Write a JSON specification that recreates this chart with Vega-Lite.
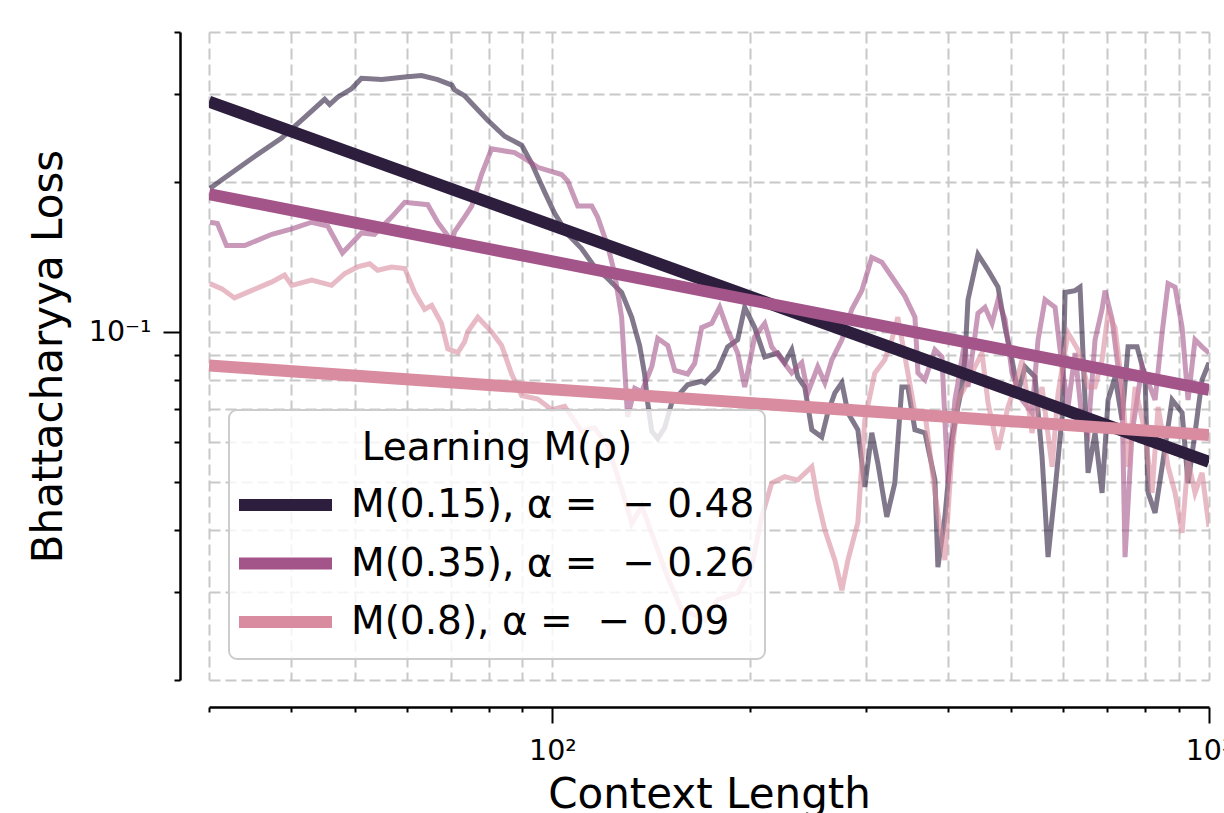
{
  "$schema": "https://vega.github.io/schema/vega-lite/v6.json",
  "width": 1000,
  "height": 648,
  "autosize": {"type": "none"},
  "padding": {"left": 209, "top": 32, "right": 15, "bottom": 133},
  "background": "white",
  "config": {
    "view": {"stroke": null},
    "font": "DejaVu Sans",
    "axis": {
      "domainColor": "black", "domainWidth": 2.5,
      "tickColor": "black", "tickWidth": 2,
      "labelColor": "black", "labelFont": "DejaVu Sans", "labelFontSize": 28.5,
      "titleColor": "black", "titleFont": "DejaVu Sans", "titleFontSize": 42, "titleFontWeight": "normal",
      "grid": true, "gridColor": "#c8c8c8", "gridDash": [11, 5], "gridWidth": 2,
      "labelOverlap": false, "labelFlush": false, "labelBound": false
    },
    "legend": {"strokeWidth": 2}
  },
  "datasets": {
    "raw": [
      {"m": "M(0.15)", "x": 30.1, "y": 0.194}, {"m": "M(0.15)", "x": 31.7, "y": 0.204}, {"m": "M(0.15)", "x": 35.2, "y": 0.225},
      {"m": "M(0.15)", "x": 38.7, "y": 0.245}, {"m": "M(0.15)", "x": 42.0, "y": 0.270}, {"m": "M(0.15)", "x": 45.0, "y": 0.293},
      {"m": "M(0.15)", "x": 45.8, "y": 0.286}, {"m": "M(0.15)", "x": 47.1, "y": 0.296}, {"m": "M(0.15)", "x": 49.5, "y": 0.308},
      {"m": "M(0.15)", "x": 51.2, "y": 0.323}, {"m": "M(0.15)", "x": 55.0, "y": 0.321}, {"m": "M(0.15)", "x": 59.6, "y": 0.325},
      {"m": "M(0.15)", "x": 63.2, "y": 0.327}, {"m": "M(0.15)", "x": 66.9, "y": 0.321}, {"m": "M(0.15)", "x": 70.3, "y": 0.313},
      {"m": "M(0.15)", "x": 71.0, "y": 0.306}, {"m": "M(0.15)", "x": 73.5, "y": 0.298}, {"m": "M(0.15)", "x": 79.7, "y": 0.266},
      {"m": "M(0.15)", "x": 84.6, "y": 0.247}, {"m": "M(0.15)", "x": 89.8, "y": 0.237}, {"m": "M(0.15)", "x": 93.0, "y": 0.218},
      {"m": "M(0.15)", "x": 97.3, "y": 0.191}, {"m": "M(0.15)", "x": 100.8, "y": 0.173}, {"m": "M(0.15)", "x": 105.5, "y": 0.157},
      {"m": "M(0.15)", "x": 110.8, "y": 0.147}, {"m": "M(0.15)", "x": 116.0, "y": 0.135}, {"m": "M(0.15)", "x": 121.4, "y": 0.128},
      {"m": "M(0.15)", "x": 127.5, "y": 0.120}, {"m": "M(0.15)", "x": 132.1, "y": 0.107}, {"m": "M(0.15)", "x": 135.8, "y": 0.0939},
      {"m": "M(0.15)", "x": 138.2, "y": 0.0823}, {"m": "M(0.15)", "x": 139.7, "y": 0.0721}, {"m": "M(0.15)", "x": 141.7, "y": 0.0632},
      {"m": "M(0.15)", "x": 144.7, "y": 0.0611}, {"m": "M(0.15)", "x": 148.3, "y": 0.0642}, {"m": "M(0.15)", "x": 152.0, "y": 0.0721},
      {"m": "M(0.15)", "x": 160.7, "y": 0.0783}, {"m": "M(0.15)", "x": 168.8, "y": 0.0796}, {"m": "M(0.15)", "x": 170.7, "y": 0.0790},
      {"m": "M(0.15)", "x": 178.6, "y": 0.0839}, {"m": "M(0.15)", "x": 184.9, "y": 0.0933}, {"m": "M(0.15)", "x": 191.5, "y": 0.0964},
      {"m": "M(0.15)", "x": 196.3, "y": 0.112}, {"m": "M(0.15)", "x": 203.3, "y": 0.102}, {"m": "M(0.15)", "x": 210.6, "y": 0.0891},
      {"m": "M(0.15)", "x": 220.4, "y": 0.0907}, {"m": "M(0.15)", "x": 225.9, "y": 0.0867}, {"m": "M(0.15)", "x": 231.5, "y": 0.0920},
      {"m": "M(0.15)", "x": 236.4, "y": 0.0812}, {"m": "M(0.15)", "x": 242.3, "y": 0.0775}, {"m": "M(0.15)", "x": 248.4, "y": 0.0636},
      {"m": "M(0.15)", "x": 257.2, "y": 0.0615}, {"m": "M(0.15)", "x": 262.7, "y": 0.0688}, {"m": "M(0.15)", "x": 269.3, "y": 0.0754},
      {"m": "M(0.15)", "x": 276.0, "y": 0.0790}, {"m": "M(0.15)", "x": 281.9, "y": 0.0688}, {"m": "M(0.15)", "x": 291.9, "y": 0.0636},
      {"m": "M(0.15)", "x": 299.1, "y": 0.0488}, {"m": "M(0.15)", "x": 306.5, "y": 0.0627}, {"m": "M(0.15)", "x": 313.1, "y": 0.0545},
      {"m": "M(0.15)", "x": 323.1, "y": 0.0425}, {"m": "M(0.15)", "x": 332.3, "y": 0.0497}, {"m": "M(0.15)", "x": 340.6, "y": 0.0775},
      {"m": "M(0.15)", "x": 347.9, "y": 0.0775}, {"m": "M(0.15)", "x": 356.6, "y": 0.0636}, {"m": "M(0.15)", "x": 369.3, "y": 0.0627},
      {"m": "M(0.15)", "x": 382.5, "y": 0.0504}, {"m": "M(0.15)", "x": 386.5, "y": 0.0337}, {"m": "M(0.15)", "x": 396.1, "y": 0.0425},
      {"m": "M(0.15)", "x": 406.0, "y": 0.0607}, {"m": "M(0.15)", "x": 414.6, "y": 0.0707}, {"m": "M(0.15)", "x": 420.5, "y": 0.0775},
      {"m": "M(0.15)", "x": 425.0, "y": 0.0891}, {"m": "M(0.15)", "x": 429.5, "y": 0.116}, {"m": "M(0.15)", "x": 444.8, "y": 0.143},
      {"m": "M(0.15)", "x": 460.8, "y": 0.133}, {"m": "M(0.15)", "x": 477.2, "y": 0.123}, {"m": "M(0.15)", "x": 489.1, "y": 0.102},
      {"m": "M(0.15)", "x": 501.2, "y": 0.0879}, {"m": "M(0.15)", "x": 511.9, "y": 0.0754}, {"m": "M(0.15)", "x": 524.6, "y": 0.0851},
      {"m": "M(0.15)", "x": 543.3, "y": 0.0812}, {"m": "M(0.15)", "x": 556.9, "y": 0.0561}, {"m": "M(0.15)", "x": 568.7, "y": 0.0353},
      {"m": "M(0.15)", "x": 582.9, "y": 0.0482}, {"m": "M(0.15)", "x": 597.4, "y": 0.0675}, {"m": "M(0.15)", "x": 603.7, "y": 0.120},
      {"m": "M(0.15)", "x": 625.2, "y": 0.121}, {"m": "M(0.15)", "x": 636.2, "y": 0.123}, {"m": "M(0.15)", "x": 647.5, "y": 0.0730},
      {"m": "M(0.15)", "x": 654.4, "y": 0.0521}, {"m": "M(0.15)", "x": 670.6, "y": 0.0627}, {"m": "M(0.15)", "x": 687.3, "y": 0.0475},
      {"m": "M(0.15)", "x": 701.9, "y": 0.0730}, {"m": "M(0.15)", "x": 719.4, "y": 0.0812}, {"m": "M(0.15)", "x": 737.3, "y": 0.0666},
      {"m": "M(0.15)", "x": 752.9, "y": 0.0933}, {"m": "M(0.15)", "x": 777.1, "y": 0.0933}, {"m": "M(0.15)", "x": 799.2, "y": 0.0812},
      {"m": "M(0.15)", "x": 807.7, "y": 0.0475}, {"m": "M(0.15)", "x": 827.7, "y": 0.0433}, {"m": "M(0.15)", "x": 848.3, "y": 0.0536},
      {"m": "M(0.15)", "x": 878.6, "y": 0.0730}, {"m": "M(0.15)", "x": 910.0, "y": 0.0688}, {"m": "M(0.15)", "x": 929.2, "y": 0.0497},
      {"m": "M(0.15)", "x": 952.2, "y": 0.0627}, {"m": "M(0.15)", "x": 975.9, "y": 0.0801}, {"m": "M(0.15)", "x": 1000, "y": 0.0867},

      {"m": "M(0.35)", "x": 30.1, "y": 0.166}, {"m": "M(0.35)", "x": 30.9, "y": 0.165}, {"m": "M(0.35)", "x": 31.9, "y": 0.149},
      {"m": "M(0.35)", "x": 34.0, "y": 0.149}, {"m": "M(0.35)", "x": 37.4, "y": 0.157}, {"m": "M(0.35)", "x": 40.1, "y": 0.161},
      {"m": "M(0.35)", "x": 43.0, "y": 0.166}, {"m": "M(0.35)", "x": 45.5, "y": 0.163}, {"m": "M(0.35)", "x": 47.9, "y": 0.144},
      {"m": "M(0.35)", "x": 51.2, "y": 0.158}, {"m": "M(0.35)", "x": 53.6, "y": 0.157}, {"m": "M(0.35)", "x": 56.9, "y": 0.170},
      {"m": "M(0.35)", "x": 59.6, "y": 0.182}, {"m": "M(0.35)", "x": 64.6, "y": 0.180}, {"m": "M(0.35)", "x": 66.9, "y": 0.166},
      {"m": "M(0.35)", "x": 70.3, "y": 0.152}, {"m": "M(0.35)", "x": 71.0, "y": 0.159}, {"m": "M(0.35)", "x": 73.5, "y": 0.170},
      {"m": "M(0.35)", "x": 75.4, "y": 0.179}, {"m": "M(0.35)", "x": 78.0, "y": 0.207}, {"m": "M(0.35)", "x": 80.8, "y": 0.233},
      {"m": "M(0.35)", "x": 87.6, "y": 0.229}, {"m": "M(0.35)", "x": 91.7, "y": 0.221}, {"m": "M(0.35)", "x": 95.0, "y": 0.214},
      {"m": "M(0.35)", "x": 98.4, "y": 0.211}, {"m": "M(0.35)", "x": 103.3, "y": 0.207}, {"m": "M(0.35)", "x": 105.5, "y": 0.201},
      {"m": "M(0.35)", "x": 109.3, "y": 0.179}, {"m": "M(0.35)", "x": 114.8, "y": 0.179}, {"m": "M(0.35)", "x": 117.2, "y": 0.170},
      {"m": "M(0.35)", "x": 121.4, "y": 0.149}, {"m": "M(0.35)", "x": 124.4, "y": 0.131}, {"m": "M(0.35)", "x": 127.5, "y": 0.107},
      {"m": "M(0.35)", "x": 130.2, "y": 0.0675}, {"m": "M(0.35)", "x": 133.5, "y": 0.0770}, {"m": "M(0.35)", "x": 136.8, "y": 0.0758},
      {"m": "M(0.35)", "x": 141.7, "y": 0.0851}, {"m": "M(0.35)", "x": 144.7, "y": 0.0970}, {"m": "M(0.35)", "x": 149.9, "y": 0.0939},
      {"m": "M(0.35)", "x": 153.6, "y": 0.0837}, {"m": "M(0.35)", "x": 160.7, "y": 0.0823}, {"m": "M(0.35)", "x": 164.7, "y": 0.0864},
      {"m": "M(0.35)", "x": 168.8, "y": 0.102}, {"m": "M(0.35)", "x": 174.9, "y": 0.104}, {"m": "M(0.35)", "x": 179.8, "y": 0.112},
      {"m": "M(0.35)", "x": 184.9, "y": 0.101}, {"m": "M(0.35)", "x": 191.5, "y": 0.0907}, {"m": "M(0.35)", "x": 196.3, "y": 0.0775},
      {"m": "M(0.35)", "x": 203.3, "y": 0.0977}, {"m": "M(0.35)", "x": 210.6, "y": 0.104}, {"m": "M(0.35)", "x": 215.8, "y": 0.0933},
      {"m": "M(0.35)", "x": 223.5, "y": 0.0879}, {"m": "M(0.35)", "x": 231.5, "y": 0.0827}, {"m": "M(0.35)", "x": 239.8, "y": 0.0867},
      {"m": "M(0.35)", "x": 244.9, "y": 0.0754}, {"m": "M(0.35)", "x": 253.6, "y": 0.0851}, {"m": "M(0.35)", "x": 260.0, "y": 0.0790},
      {"m": "M(0.35)", "x": 266.5, "y": 0.0879}, {"m": "M(0.35)", "x": 276.0, "y": 0.0964}, {"m": "M(0.35)", "x": 285.8, "y": 0.111},
      {"m": "M(0.35)", "x": 296.0, "y": 0.121}, {"m": "M(0.35)", "x": 306.5, "y": 0.141}, {"m": "M(0.35)", "x": 317.5, "y": 0.138},
      {"m": "M(0.35)", "x": 328.8, "y": 0.129}, {"m": "M(0.35)", "x": 344.2, "y": 0.118}, {"m": "M(0.35)", "x": 356.6, "y": 0.107},
      {"m": "M(0.35)", "x": 360.4, "y": 0.0827}, {"m": "M(0.35)", "x": 369.3, "y": 0.0801}, {"m": "M(0.35)", "x": 382.5, "y": 0.0920},
      {"m": "M(0.35)", "x": 392.0, "y": 0.0891}, {"m": "M(0.35)", "x": 400.3, "y": 0.0497}, {"m": "M(0.35)", "x": 410.3, "y": 0.0730},
      {"m": "M(0.35)", "x": 414.6, "y": 0.0790}, {"m": "M(0.35)", "x": 425.0, "y": 0.0964}, {"m": "M(0.35)", "x": 429.5, "y": 0.0775},
      {"m": "M(0.35)", "x": 444.8, "y": 0.109}, {"m": "M(0.35)", "x": 455.9, "y": 0.112}, {"m": "M(0.35)", "x": 467.3, "y": 0.104},
      {"m": "M(0.35)", "x": 477.2, "y": 0.116}, {"m": "M(0.35)", "x": 489.1, "y": 0.106}, {"m": "M(0.35)", "x": 501.2, "y": 0.0827},
      {"m": "M(0.35)", "x": 519.2, "y": 0.0730}, {"m": "M(0.35)", "x": 537.6, "y": 0.0688}, {"m": "M(0.35)", "x": 549.1, "y": 0.0964},
      {"m": "M(0.35)", "x": 562.7, "y": 0.116}, {"m": "M(0.35)", "x": 582.9, "y": 0.112}, {"m": "M(0.35)", "x": 597.4, "y": 0.0851},
      {"m": "M(0.35)", "x": 610.1, "y": 0.0707}, {"m": "M(0.35)", "x": 625.2, "y": 0.0907}, {"m": "M(0.35)", "x": 640.7, "y": 0.0666},
      {"m": "M(0.35)", "x": 654.4, "y": 0.0627}, {"m": "M(0.35)", "x": 670.6, "y": 0.0964}, {"m": "M(0.35)", "x": 687.3, "y": 0.111},
      {"m": "M(0.35)", "x": 694.6, "y": 0.121}, {"m": "M(0.35)", "x": 711.8, "y": 0.106}, {"m": "M(0.35)", "x": 737.3, "y": 0.0730},
      {"m": "M(0.35)", "x": 745.0, "y": 0.0353}, {"m": "M(0.35)", "x": 763.5, "y": 0.0627}, {"m": "M(0.35)", "x": 790.8, "y": 0.0851},
      {"m": "M(0.35)", "x": 827.7, "y": 0.0730}, {"m": "M(0.35)", "x": 848.3, "y": 0.0995}, {"m": "M(0.35)", "x": 866.3, "y": 0.125},
      {"m": "M(0.35)", "x": 887.9, "y": 0.123}, {"m": "M(0.35)", "x": 910.0, "y": 0.102}, {"m": "M(0.35)", "x": 929.2, "y": 0.0730},
      {"m": "M(0.35)", "x": 952.2, "y": 0.0964}, {"m": "M(0.35)", "x": 975.9, "y": 0.0933}, {"m": "M(0.35)", "x": 1000, "y": 0.0907},

      {"m": "M(0.8)", "x": 30.1, "y": 0.125}, {"m": "M(0.8)", "x": 31.4, "y": 0.122}, {"m": "M(0.8)", "x": 32.8, "y": 0.117},
      {"m": "M(0.8)", "x": 34.8, "y": 0.121}, {"m": "M(0.8)", "x": 37.4, "y": 0.126}, {"m": "M(0.8)", "x": 39.1, "y": 0.130},
      {"m": "M(0.8)", "x": 40.1, "y": 0.124}, {"m": "M(0.8)", "x": 43.0, "y": 0.127}, {"m": "M(0.8)", "x": 46.1, "y": 0.124},
      {"m": "M(0.8)", "x": 48.3, "y": 0.131}, {"m": "M(0.8)", "x": 50.5, "y": 0.135}, {"m": "M(0.8)", "x": 52.7, "y": 0.137},
      {"m": "M(0.8)", "x": 54.2, "y": 0.133}, {"m": "M(0.8)", "x": 56.9, "y": 0.135}, {"m": "M(0.8)", "x": 59.6, "y": 0.134},
      {"m": "M(0.8)", "x": 61.7, "y": 0.120}, {"m": "M(0.8)", "x": 63.9, "y": 0.111}, {"m": "M(0.8)", "x": 65.5, "y": 0.113},
      {"m": "M(0.8)", "x": 67.8, "y": 0.104}, {"m": "M(0.8)", "x": 69.3, "y": 0.0924}, {"m": "M(0.8)", "x": 71.8, "y": 0.0909},
      {"m": "M(0.8)", "x": 73.5, "y": 0.0955}, {"m": "M(0.8)", "x": 74.3, "y": 0.100}, {"m": "M(0.8)", "x": 77.0, "y": 0.107},
      {"m": "M(0.8)", "x": 80.8, "y": 0.100}, {"m": "M(0.8)", "x": 83.7, "y": 0.0939}, {"m": "M(0.8)", "x": 86.7, "y": 0.0823},
      {"m": "M(0.8)", "x": 89.8, "y": 0.0745}, {"m": "M(0.8)", "x": 95.0, "y": 0.0733}, {"m": "M(0.8)", "x": 99.8, "y": 0.0698},
      {"m": "M(0.8)", "x": 104.4, "y": 0.0709}, {"m": "M(0.8)", "x": 110.8, "y": 0.0632}, {"m": "M(0.8)", "x": 116.0, "y": 0.0642},
      {"m": "M(0.8)", "x": 121.4, "y": 0.0591}, {"m": "M(0.8)", "x": 127.5, "y": 0.0485}, {"m": "M(0.8)", "x": 132.1, "y": 0.0412},
      {"m": "M(0.8)", "x": 136.8, "y": 0.0447}, {"m": "M(0.8)", "x": 143.2, "y": 0.0379}, {"m": "M(0.8)", "x": 149.9, "y": 0.0321},
      {"m": "M(0.8)", "x": 157.4, "y": 0.0277}, {"m": "M(0.8)", "x": 164.7, "y": 0.0270}, {"m": "M(0.8)", "x": 170.7, "y": 0.0264},
      {"m": "M(0.8)", "x": 178.6, "y": 0.0290}, {"m": "M(0.8)", "x": 191.5, "y": 0.0299}, {"m": "M(0.8)", "x": 201.2, "y": 0.0337},
      {"m": "M(0.8)", "x": 208.4, "y": 0.0425}, {"m": "M(0.8)", "x": 215.8, "y": 0.0497}, {"m": "M(0.8)", "x": 225.9, "y": 0.0512},
      {"m": "M(0.8)", "x": 236.4, "y": 0.0504}, {"m": "M(0.8)", "x": 248.4, "y": 0.0536}, {"m": "M(0.8)", "x": 253.6, "y": 0.0460},
      {"m": "M(0.8)", "x": 260.0, "y": 0.0400}, {"m": "M(0.8)", "x": 269.3, "y": 0.0348}, {"m": "M(0.8)", "x": 276.0, "y": 0.0303},
      {"m": "M(0.8)", "x": 281.9, "y": 0.0348}, {"m": "M(0.8)", "x": 291.9, "y": 0.0414}, {"m": "M(0.8)", "x": 299.1, "y": 0.0666},
      {"m": "M(0.8)", "x": 309.8, "y": 0.0827}, {"m": "M(0.8)", "x": 320.8, "y": 0.0879}, {"m": "M(0.8)", "x": 328.8, "y": 0.0964},
      {"m": "M(0.8)", "x": 335.8, "y": 0.107}, {"m": "M(0.8)", "x": 347.9, "y": 0.0827}, {"m": "M(0.8)", "x": 356.6, "y": 0.0688},
      {"m": "M(0.8)", "x": 369.3, "y": 0.0688}, {"m": "M(0.8)", "x": 382.5, "y": 0.0475}, {"m": "M(0.8)", "x": 396.1, "y": 0.0348},
      {"m": "M(0.8)", "x": 406.0, "y": 0.0571}, {"m": "M(0.8)", "x": 414.6, "y": 0.0730}, {"m": "M(0.8)", "x": 425.0, "y": 0.0775},
      {"m": "M(0.8)", "x": 440.1, "y": 0.0851}, {"m": "M(0.8)", "x": 451.1, "y": 0.0907}, {"m": "M(0.8)", "x": 460.8, "y": 0.0720},
      {"m": "M(0.8)", "x": 477.2, "y": 0.0580}, {"m": "M(0.8)", "x": 494.2, "y": 0.0707}, {"m": "M(0.8)", "x": 506.5, "y": 0.0775},
      {"m": "M(0.8)", "x": 519.2, "y": 0.0879}, {"m": "M(0.8)", "x": 537.6, "y": 0.0627}, {"m": "M(0.8)", "x": 556.9, "y": 0.0775},
      {"m": "M(0.8)", "x": 576.8, "y": 0.0536}, {"m": "M(0.8)", "x": 589.1, "y": 0.0754}, {"m": "M(0.8)", "x": 610.1, "y": 0.0995},
      {"m": "M(0.8)", "x": 631.8, "y": 0.0920}, {"m": "M(0.8)", "x": 654.4, "y": 0.0775}, {"m": "M(0.8)", "x": 670.6, "y": 0.0775},
      {"m": "M(0.8)", "x": 687.3, "y": 0.0879}, {"m": "M(0.8)", "x": 701.9, "y": 0.109}, {"m": "M(0.8)", "x": 719.4, "y": 0.102},
      {"m": "M(0.8)", "x": 737.3, "y": 0.0775}, {"m": "M(0.8)", "x": 752.9, "y": 0.0536}, {"m": "M(0.8)", "x": 771.7, "y": 0.0775},
      {"m": "M(0.8)", "x": 799.2, "y": 0.0627}, {"m": "M(0.8)", "x": 819.1, "y": 0.0475}, {"m": "M(0.8)", "x": 836.5, "y": 0.0707},
      {"m": "M(0.8)", "x": 866.3, "y": 0.0536}, {"m": "M(0.8)", "x": 887.9, "y": 0.0475}, {"m": "M(0.8)", "x": 910.0, "y": 0.0395},
      {"m": "M(0.8)", "x": 929.2, "y": 0.0553}, {"m": "M(0.8)", "x": 952.2, "y": 0.0475}, {"m": "M(0.8)", "x": 975.9, "y": 0.0521},
      {"m": "M(0.8)", "x": 1000, "y": 0.0406}
    ],
    "fit": [
      {"m": "M(0.15)", "x": 30, "y": 0.290}, {"m": "M(0.15)", "x": 1000, "y": 0.0548},
      {"m": "M(0.35)", "x": 30, "y": 0.189}, {"m": "M(0.35)", "x": 1000, "y": 0.0765},
      {"m": "M(0.8)", "x": 30, "y": 0.0856}, {"m": "M(0.8)", "x": 1000, "y": 0.0621}
    ]
  },
  "encoding": {
    "x": {
      "field": "x", "type": "quantitative",
      "scale": {"type": "log", "domain": [30, 1000], "nice": false},
      "axis": {
        "values": [30, 40, 50, 60, 70, 80, 90, 100, 200, 300, 400, 500, 600, 700, 800, 900, 1000],
        "offset": 27,
        "title": "Context Length",
        "titlePadding": 10,
        "labelExpr": "datum.value == 100 ? '10²' : (datum.value == 1000 ? '10³' : '')",
        "labelPadding": 13,
        "tickSize": {"condition": {"test": "datum.value == 100 || datum.value == 1000", "value": 16}, "value": 5}
      }
    },
    "y": {
      "field": "y", "type": "quantitative",
      "scale": {"type": "log", "domain": [0.02, 0.4], "nice": false},
      "axis": {
        "values": [0.02, 0.03, 0.04, 0.05, 0.06, 0.07, 0.08, 0.09, 0.1, 0.2, 0.3, 0.4],
        "offset": 29,
        "title": "Bhattacharyya Loss",
        "titlePadding": 18,
        "labelExpr": "datum.value == 0.1 ? '10⁻¹' : ''",
        "labelPadding": 12,
        "tickSize": {"condition": {"test": "datum.value == 0.1", "value": 17}, "value": 6}
      }
    },
    "color": {
      "field": "m", "type": "nominal",
      "scale": {"domain": ["M(0.15)", "M(0.35)", "M(0.8)"], "range": ["#2d1e3e", "#a3558a", "#d98c9f"]},
      "legend": {
        "orient": "none", "legendX": 20, "legendY": 378,
        "title": "Learning M(ρ)",
        "titleFont": "DejaVu Sans", "titleFontSize": 39, "titleFontWeight": "normal", "titleColor": "black", "titleLimit": 900,
        "titleAnchor": "middle", "titleBaseline": "line-top", "titleLineHeight": 58, "titlePadding": 19,
        "labelFont": "DejaVu Sans", "labelFontSize": 39, "labelColor": "black", "labelLimit": 900, "labelOffset": 13,
        "labelExpr": "datum.label == 'M(0.15)' ? 'M(0.15), α = \u00a0− 0.48' : (datum.label == 'M(0.35)' ? 'M(0.35), α = \u00a0− 0.26' : 'M(0.8), α = \u00a0− 0.09')",
        "symbolType": "stroke", "symbolSize": 8649, "symbolStrokeWidth": 12, "symbolOpacity": 1, "symbolOffset": -6,
        "clipHeight": 54, "rowPadding": 4.5,
        "padding": 10, "fillColor": "rgba(255,255,255,0.8)", "strokeColor": "#cccccc", "cornerRadius": 8
      }
    }
  },
  "layer": [
    {"data": {"name": "raw"}, "mark": {"type": "line", "strokeWidth": 5, "opacity": 0.6, "clip": true}},
    {"data": {"name": "fit"}, "mark": {"type": "line", "strokeWidth": 12, "clip": true}}
  ]
}
